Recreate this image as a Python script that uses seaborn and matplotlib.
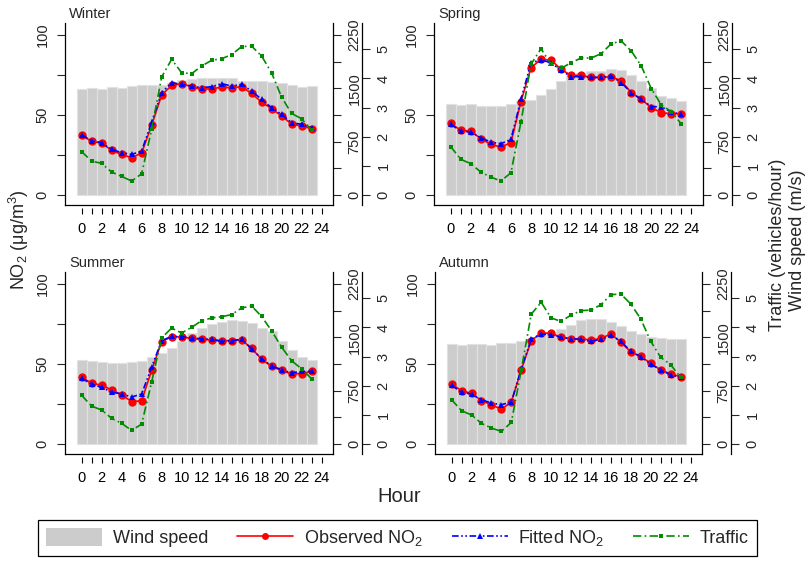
import matplotlib
matplotlib.use("Agg")
import matplotlib.pyplot as plt
import seaborn as sns
from matplotlib.lines import Line2D
from matplotlib.patches import Patch

# Data (hourly means)
hours = list(range(24))

winter_obs = [37.3, 33.5, 32.5, 27.9, 25.4, 23.3, 26.3, 43.5, 62.5, 68.5, 69.6, 67.7,
              66.0, 66.5, 67.3, 67.1, 67.7, 63.5, 58.1, 54.0, 49.4, 44.4, 43.1, 41.5]
winter_fit = [37.7, 34.0, 32.7, 28.5, 26.5, 25.4, 27.5, 45.6, 64.0, 70.2, 69.2, 68.1,
              67.1, 67.7, 69.6, 68.1, 69.2, 65.0, 59.8, 54.6, 50.4, 45.2, 44.2, 42.1]
winter_traffic = [609, 478, 445, 323, 262, 197, 300, 923, 1659, 1908, 1720, 1706,
                  1814, 1894, 1917, 1973, 2086, 2095, 1955, 1720, 1378, 1148, 1073, 914]
winter_wind = [3.63, 3.67, 3.63, 3.70, 3.68, 3.75, 3.76, 3.77, 3.79, 3.84, 3.95, 3.97,
               4.00, 4.00, 4.02, 4.00, 3.93, 3.92, 3.91, 3.88, 3.83, 3.76, 3.72, 3.75]

spring_obs = [44.8, 40.4, 40.0, 35.2, 31.7, 30.0, 32.7, 58.3, 79.6, 84.8, 84.4, 78.5,
              74.8, 74.8, 73.5, 73.5, 74.0, 71.3, 64.0, 59.8, 54.6, 51.5, 50.8, 50.8]
spring_fit = [44.2, 40.0, 39.4, 35.8, 33.1, 32.1, 34.8, 59.8, 82.7, 84.4, 82.7, 77.9,
              74.0, 74.0, 73.5, 73.5, 74.4, 70.2, 64.0, 59.8, 55.2, 55.2, 51.9, 50.4]
spring_traffic = [680, 502, 441, 323, 253, 197, 314, 1027, 1838, 2058, 1838, 1781,
                  1861, 1927, 1927, 1988, 2128, 2166, 2025, 1814, 1495, 1266, 1172, 998]
spring_wind = [3.12, 3.09, 3.11, 3.04, 3.06, 3.04, 3.13, 3.21, 3.27, 3.42, 3.63, 3.90,
               4.07, 4.18, 4.24, 4.27, 4.33, 4.29, 4.12, 3.91, 3.67, 3.41, 3.33, 3.23]

summer_obs = [41.9, 37.9, 36.9, 33.8, 30.8, 26.5, 27.1, 46.0, 64.0, 67.1, 66.9, 66.0,
              65.4, 65.0, 64.6, 64.6, 65.2, 59.8, 53.1, 48.5, 46.0, 43.8, 44.0, 45.4]
summer_fit = [41.0, 37.5, 35.4, 32.5, 31.3, 29.4, 31.3, 48.1, 64.6, 67.3, 67.1, 66.3,
              65.8, 65.4, 64.2, 64.6, 65.4, 59.6, 53.3, 48.8, 46.5, 44.4, 45.4, 45.4]
summer_traffic = [684, 534, 478, 361, 291, 192, 281, 872, 1491, 1631, 1561, 1641,
                  1734, 1772, 1791, 1819, 1913, 1941, 1795, 1594, 1364, 1172, 1059, 919]
summer_wind = [2.88, 2.85, 2.81, 2.78, 2.78, 2.81, 2.86, 2.98, 3.13, 3.28, 3.54, 3.82,
               3.99, 4.13, 4.19, 4.25, 4.23, 4.17, 3.99, 3.87, 3.54, 3.22, 2.98, 2.87]

autumn_obs = [37.5, 33.3, 31.7, 27.1, 24.6, 21.7, 26.3, 46.5, 64.6, 69.4, 69.2, 66.7,
              65.8, 65.8, 65.0, 66.0, 68.8, 63.8, 57.5, 54.8, 50.4, 46.3, 43.8, 42.1]
autumn_fit = [36.7, 32.3, 31.3, 27.7, 25.6, 24.6, 26.3, 47.1, 65.6, 68.8, 68.3, 66.7,
              65.8, 65.4, 64.2, 65.4, 67.9, 64.2, 57.9, 54.6, 50.0, 46.3, 43.3, 41.7]
autumn_traffic = [623, 469, 408, 291, 225, 178, 305, 1045, 1828, 1992, 1772, 1725,
                  1814, 1875, 1884, 1959, 2100, 2109, 1969, 1758, 1444, 1219, 1116, 938]
autumn_wind = [3.44, 3.39, 3.43, 3.43, 3.39, 3.47, 3.47, 3.53, 3.62, 3.74, 3.79, 3.96,
               4.10, 4.27, 4.28, 4.28, 4.19, 4.05, 3.88, 3.76, 3.66, 3.65, 3.59, 3.60]

seasons = {
    "Winter": (winter_obs, winter_fit, winter_traffic, winter_wind),
    "Spring": (spring_obs, spring_fit, spring_traffic, spring_wind),
    "Summer": (summer_obs, summer_fit, summer_traffic, summer_wind),
    "Autumn": (autumn_obs, autumn_fit, autumn_traffic, autumn_wind),
}

sns.set_style("white")
plt.rcParams["font.family"] = ["Liberation Sans", "DejaVu Sans"]
plt.rcParams["mathtext.fontset"] = "custom"
plt.rcParams["mathtext.rm"] = "Liberation Sans"
plt.rcParams["mathtext.it"] = "Liberation Sans:italic"

W, H = 811, 561
fig = plt.figure(figsize=(W / 100, H / 100), dpi=100)

# panel frames in pixels: left, top, right, bottom
frames = {
    "Winter": (65, 23, 333, 205),
    "Spring": (434, 23, 703, 205),
    "Summer": (65, 272, 333, 454),
    "Autumn": (435, 272, 702, 454),
}

RED, BLUE, GREEN, GREY = "#ff0000", "#0000ff", "#008b00", "#cccccc"
no2_lim = (-6.2, 107.5)
traffic_lim = (no2_lim[0] * 22.5, no2_lim[1] * 22.5)
wind_lim = (no2_lim[0] * 1.6 / 29.14, no2_lim[1] * 1.6 / 29.14)
tick_fs = 10.5

for name, (obs, fit, traffic, wind) in seasons.items():
    l, t, r, b = frames[name]
    ax = fig.add_axes([l / W, 1 - b / H, (r - l) / W, (b - t) / H])
    ax_w = ax.twinx()
    ax_t = ax.twinx()
    ax_w.set_zorder(0)
    ax.set_zorder(1)
    ax_t.set_zorder(2)
    ax.patch.set_visible(False)
    ax_t.patch.set_visible(False)

    # wind speed bars
    sns.barplot(x=hours, y=wind, ax=ax_w, native_scale=True, width=1,
                color=GREY, edgecolor="#e2e2e2", linewidth=0.8, errorbar=None,
                saturation=1)

    sns.lineplot(x=hours, y=obs, ax=ax, color=RED, linewidth=1.2, marker="o",
                 markersize=6, markeredgewidth=0)
    sns.lineplot(x=hours, y=fit, ax=ax, color=BLUE, linewidth=1.2, marker="^",
                 markersize=4.5, markeredgewidth=0,
                 linestyle=(0, (4, 1.5, 1, 1.5, 1, 1.5)))
    sns.lineplot(x=hours, y=traffic, ax=ax_t, color=GREEN, linewidth=1.2, marker="s",
                 markersize=3.5, markeredgewidth=0, linestyle=(0, (5, 2, 1, 2)))

    for a in (ax, ax_w, ax_t):
        a.set_xlim(-1.67, 25.15)
        a.set_xlabel("")
        a.set_ylabel("")
    ax.set_ylim(*no2_lim)
    ax_t.set_ylim(*traffic_lim)
    ax_w.set_ylim(*wind_lim)

    # spines
    for a in (ax, ax_w, ax_t):
        for s in a.spines.values():
            s.set_visible(False)
            s.set_linewidth(0.9)
            s.set_color("black")
    ax.spines["left"].set_visible(True)
    ax_t.spines["right"].set_visible(True)
    ax_t.spines["bottom"].set_visible(True)
    ax.spines["bottom"].set_position(("outward", 2.5))
    ax_w.spines["right"].set_visible(True)
    ax_w.spines["right"].set_position(("axes", 1 + 29 / (r - l)))

    # x ticks
    ax.set_xticks(hours + [24])
    ax.set_xticklabels([str(h) if h % 2 == 0 else "" for h in hours + [24]])
    ax.tick_params(axis="x", bottom=True, length=4.5, width=0.8, pad=5.5,
                   labelsize=tick_fs, direction="out", colors="black")

    # left NO2 axis
    ax.set_yticks([0, 25, 50, 75, 100])
    ax.set_yticklabels(["0", "", "50", "", "100"])
    ax.tick_params(axis="y", left=True, length=6, width=0.8, pad=5,
                   labelsize=tick_fs, direction="out")
    plt.setp(ax.get_yticklabels(), rotation=90, va="center")

    # traffic axis
    ax_t.set_yticks([0, 375, 750, 1125, 1500, 1875, 2250])
    ax_t.set_yticklabels(["0", "", "750", "", "1500", "", "2250"])
    ax_t.tick_params(axis="y", right=True, length=6, width=0.8, pad=4.5,
                     labelsize=tick_fs, direction="out")
    plt.setp(ax_t.get_yticklabels(), rotation=90, va="center")

    # wind axis
    ax_w.set_yticks([0, 1, 2, 3, 4, 5])
    ax_w.set_yticklabels([str(v) for v in range(6)])
    ax_w.tick_params(axis="y", right=True, length=5.5, width=0.8, pad=5,
                     labelsize=tick_fs, direction="out")
    plt.setp(ax_w.get_yticklabels(), rotation=90, va="center")

    ax.text(0.015, 1.03, name, transform=ax.transAxes, fontsize=tick_fs,
            ha="left", va="baseline")

fig.text(19 / W, 1 - 240 / H, r"NO$_2$ (μg/m$^3$)", rotation=90, fontsize=13,
         ha="center", va="center")
fig.text(778 / W, 1 - 245 / H, "Traffic (vehicles/hour)", rotation=90, fontsize=13,
         ha="center", va="center")
fig.text(797 / W, 1 - 240 / H, "Wind speed (m/s)", rotation=90, fontsize=13,
         ha="center", va="center")
fig.text(399 / W, 1 - 497 / H, "Hour", fontsize=14.5, ha="center", va="center")

handles = [
    Patch(facecolor=GREY, edgecolor="none"),
    Line2D([], [], color=RED, linewidth=1.2, marker="o", markersize=5, markeredgewidth=0),
    Line2D([], [], color=BLUE, linewidth=1.2, marker="^", markersize=4, markeredgewidth=0,
           linestyle=(0, (4, 1.5, 1, 1.5, 1, 1.5))),
    Line2D([], [], color=GREEN, linewidth=1.2, marker="s", markersize=3.5, markeredgewidth=0,
           linestyle=(0, (5, 2, 1, 2))),
]
labels = ["Wind speed", r"Observed NO$_2$", r"Fitted NO$_2$", "Traffic"]
leg = fig.legend(handles, labels, loc="center",
                 bbox_to_anchor=((37 + 758) / 2 / W, 1 - 538 / H), ncol=4,
                 fontsize=13, frameon=True, fancybox=False, framealpha=1,
                 edgecolor="black", handlelength=3.1, handleheight=1.1,
                 handletextpad=0.6, columnspacing=1.6, borderpad=0.45,
                 borderaxespad=0)
leg.get_frame().set_linewidth(0.9)

fig.savefig("out.png", dpi=100)
